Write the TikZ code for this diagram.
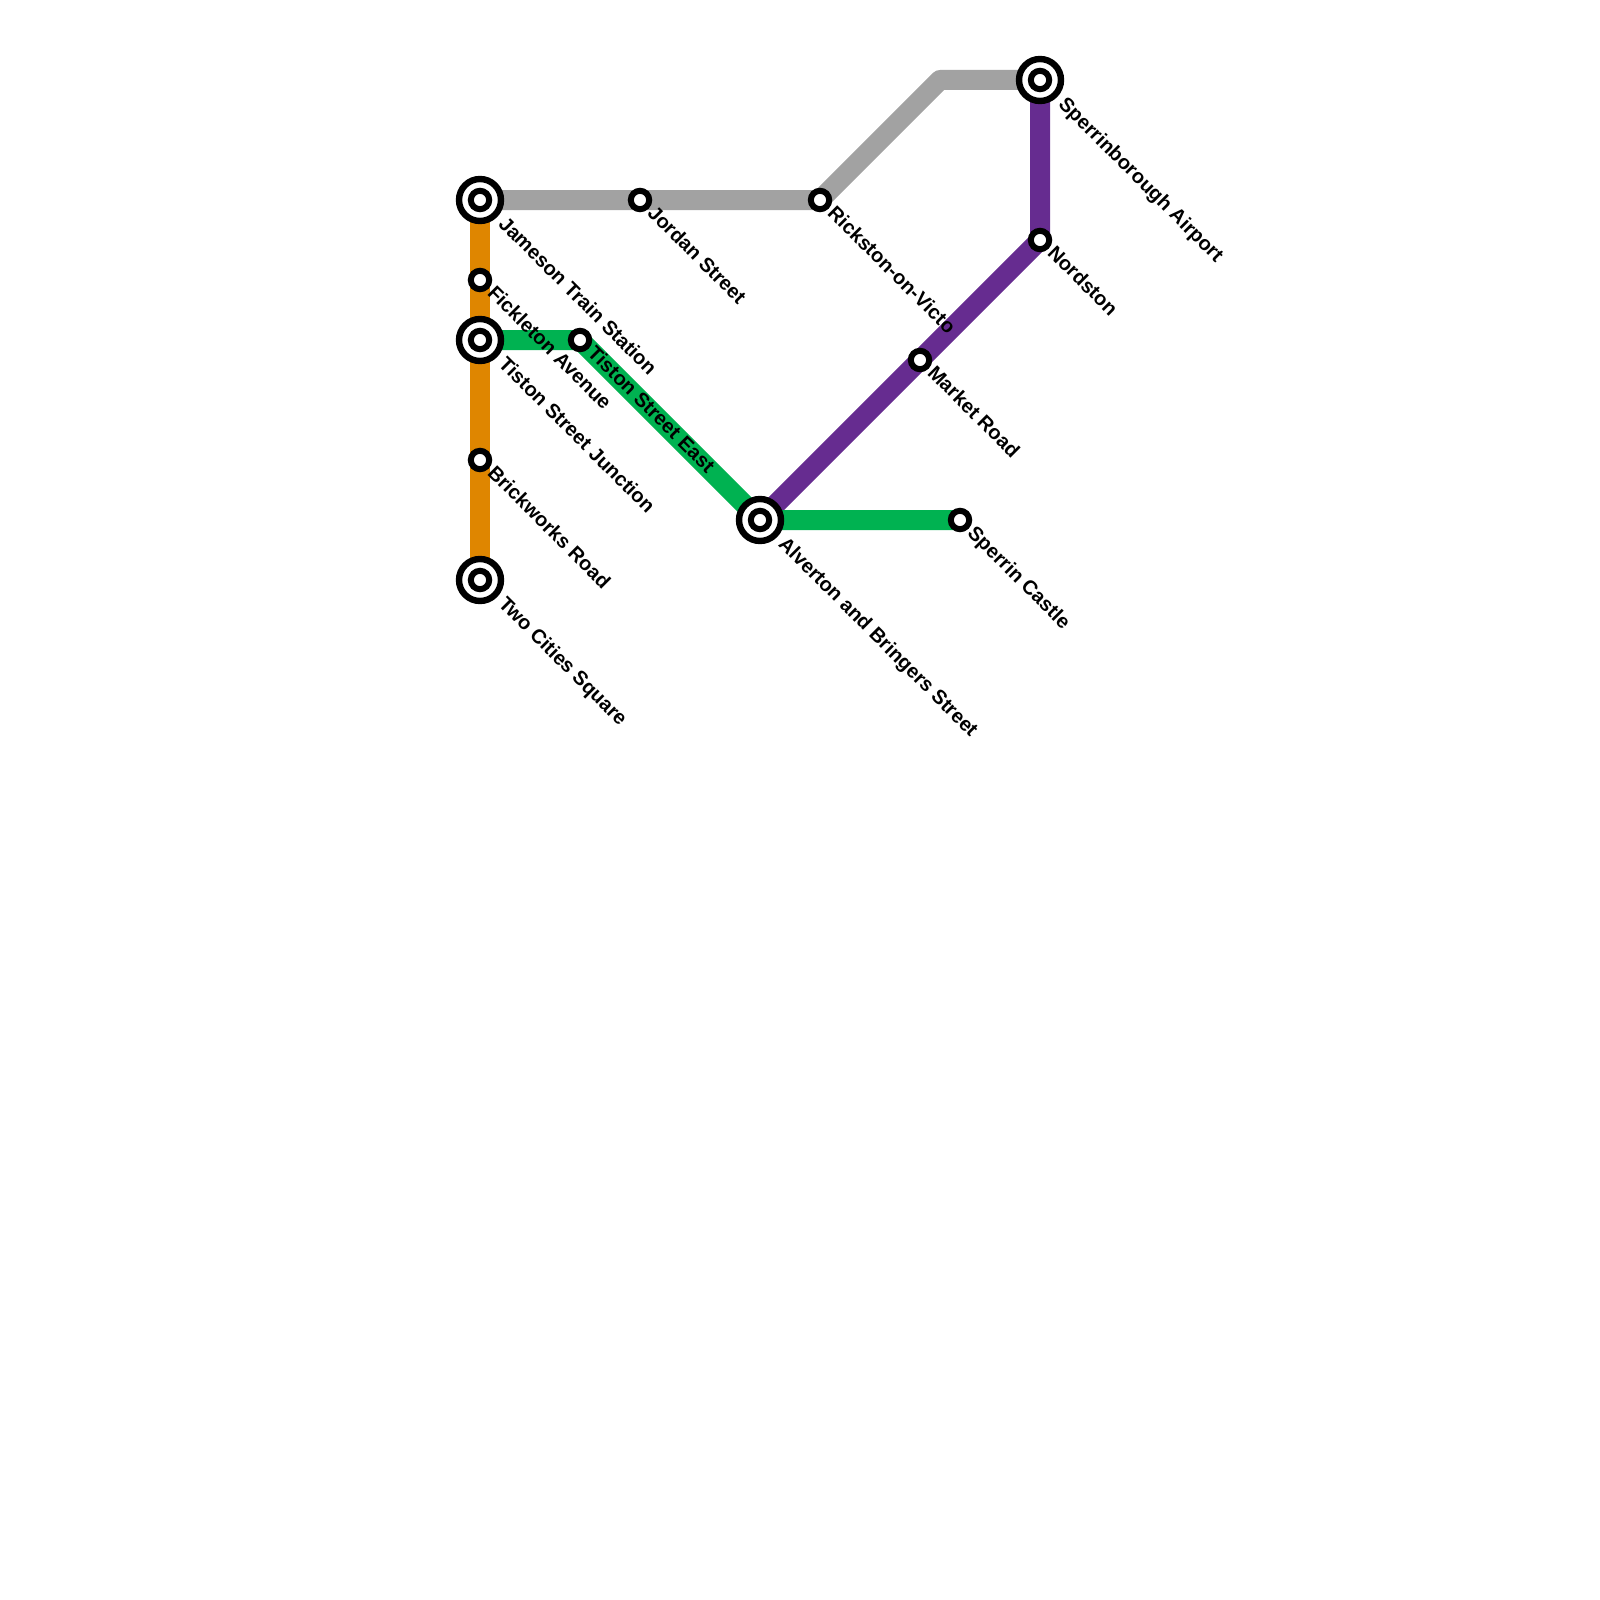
\documentclass[tikz,border=0pt]{standalone}
\usepackage{fontspec}
\setmainfont{Liberation Sans}
\pgfdeclarelayer{linelayer}
\pgfsetlayers{linelayer,main}
\tikzset{
  x=1pt,y=-1pt,
  routeline/.style={line width=20pt,line join=round},
  hub/.style={circle,draw=black,fill=white,line width=6.4pt,minimum size=42pt,inner sep=0pt,outer sep=0pt},
  stop/.style={circle,draw=black,fill=white,line width=6pt,minimum size=18.4pt,inner sep=0pt,outer sep=0pt},
  stationlabel/.style={anchor=base west,rotate=-45,inner sep=0pt,font=\fontsize{20}{20}\bfseries\selectfont,text=black},
}
\definecolor{greyline}{HTML}{A2A2A2}
\definecolor{orangeline}{HTML}{DF8600}
\definecolor{greenline}{HTML}{00B251}
\definecolor{purpleline}{HTML}{662C90}
\begin{document}
\begin{tikzpicture}
\useasboundingbox (0,0) rectangle (1600,1600);
\node[hub] (jameson) at (480,200) {};
\node[stop] (jamesonin) at (480,200) {};
\node[stop] (jordan) at (640,200) {};
\node[stop] (rickston) at (820,200) {};
\coordinate (bend) at (940,80);
\node[hub] (sperrinborough) at (1040,80) {};
\node[stop] (sperrinboroughin) at (1040,80) {};
\node[stop] (nordston) at (1040,240) {};
\node[stop] (market) at (920,360) {};
\node[hub] (alverton) at (760,520) {};
\node[stop] (alvertonin) at (760,520) {};
\node[stop] (castle) at (960,520) {};
\node[stop] (fickleton) at (480,280) {};
\node[hub] (tiston) at (480,340) {};
\node[stop] (tistonin) at (480,340) {};
\node[stop] (tistoneast) at (580,340) {};
\node[stop] (brickworks) at (480,460) {};
\node[hub] (twocities) at (480,580) {};
\node[stop] (twocitiesin) at (480,580) {};
\begin{pgfonlayer}{linelayer}
\draw[routeline,orangeline] (jameson.center) -- (fickleton.center) -- (tiston.center) -- (brickworks.center) -- (twocities.center);
\draw[routeline,greyline] (jameson.center) -- (jordan.center) -- (rickston.center) -- (bend) -- (sperrinborough.center);
\draw[routeline,purpleline] (sperrinborough.center) -- (nordston.center) -- (market.center) -- (alverton.center);
\draw[routeline,greenline] (tiston.center) -- (tistoneast.center) -- (alverton.center) -- (castle.center);
\end{pgfonlayer}
\node[stationlabel] (ljameson) at (497.5,225) {Jameson Train Station};
\node[stationlabel] (ljordan) at (646.5,214) {Jordan Street};
\node[stationlabel] (lrickston) at (826.5,214) {Rickston-on-Victo};
\node[stationlabel] (lsperrinborough) at (1057.5,105) {Sperrinborough Airport};
\node[stationlabel] (lnordston) at (1046.5,254) {Nordston};
\node[stationlabel] (lmarket) at (926.5,374) {Market Road};
\node[stationlabel] (lalverton) at (777.5,545) {Alverton and Bringers Street};
\node[stationlabel] (lcastle) at (966.5,534) {Sperrin Castle};
\node[stationlabel] (lfickleton) at (486.5,294) {Fickleton Avenue};
\node[stationlabel] (ltiston) at (497.5,365) {Tiston Street Junction};
\node[stationlabel] (ltistoneast) at (586.5,354) {Tiston Street East};
\node[stationlabel] (lbrickworks) at (486.5,474) {Brickworks Road};
\node[stationlabel] (ltwocities) at (497.5,605) {Two Cities Square};
\end{tikzpicture}
\end{document}
